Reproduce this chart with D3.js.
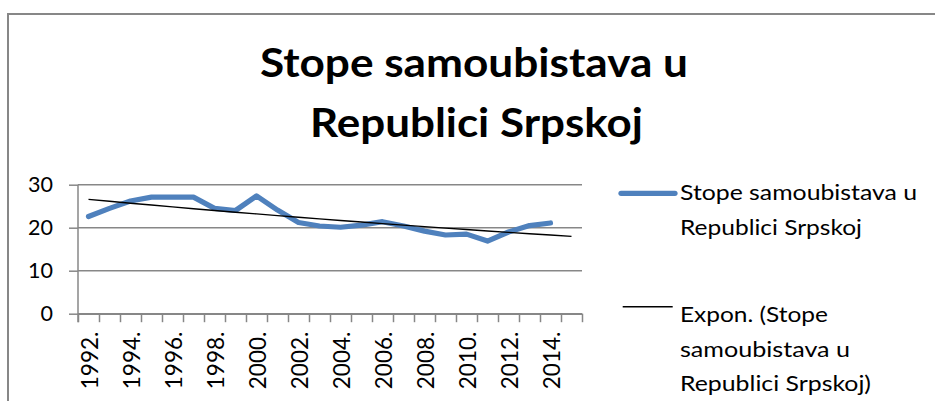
<!DOCTYPE html>
<html><head><meta charset="utf-8">
<script src="https://cdn.jsdelivr.net/npm/d3@7/dist/d3.min.js"></script>
<style>
html,body{margin:0;padding:0;background:#fff;}
svg{display:block;font-family:Lato,"Open Sans",sans-serif;}
</style></head>
<body><svg id="c" width="935" height="401"></svg>
<script>
const categories = ["1992.","1993.","1994.","1995.","1996.","1997.","1998.","1999.","2000.","2001.","2002.","2003.","2004.","2005.","2006.","2007.","2008.","2009.","2010.","2011.","2012.","2013.","2014.","2015."];
const rates = [22.6,24.5,26.2,27.1,27.1,27.1,24.5,24.0,27.4,24.1,21.2,20.4,20.1,20.6,21.4,20.4,19.2,18.3,18.5,16.9,19.0,20.5,21.1];
const tickLabels = ["1992.","1994.","1996.","1998.","2000.","2002.","2004.","2006.","2008.","2010.","2012.","2014."];
const yTicks = [0,10,20,30];
const titleLines = ["Stope samoubistava u","Republici Srpskoj"];
const seriesName = "Stope samoubistava u Republici Srpskoj";
const legendLines1 = ["Stope samoubistava u","Republici Srpskoj"];
const legendLines2 = ["Expon. (Stope","samoubistava u","Republici Srpskoj)"];

const svg = d3.select("#c");
const L = 78, R = 582, T = 184.7, B = 313.7;
const x = d3.scaleBand().domain(categories).range([L, R]).padding(0);
const xc = d => x(d) + x.bandwidth()/2;
const y = d3.scaleLinear().domain([0,30]).range([B, T]);
const grey = "#878787";

// chart border
svg.append("rect").attr("x",8).attr("y",14).attr("width",1000).attr("height",500)
  .attr("fill","none").attr("stroke",grey).attr("stroke-width",2);

// title
const tW = [428, 333], tX = [474, 476.5], tY = [76.7, 136.7];
titleLines.forEach((t,i)=>{
  svg.append("text").attr("x",tX[i]).attr("y",tY[i]).attr("text-anchor","middle")
    .attr("font-size",41).attr("font-weight","bold").attr("fill","#000")
    .attr("textLength",tW[i]).attr("lengthAdjust","spacingAndGlyphs").text(t);
});

// gridlines
svg.append("g").selectAll("line").data(yTicks).join("line")
  .attr("x1",L).attr("x2",R).attr("y1",d=>y(d)).attr("y2",d=>y(d))
  .attr("stroke",grey).attr("stroke-width",1.5);

// y axis
const yAxis = svg.append("g").attr("transform",`translate(${L},0)`)
  .call(d3.axisLeft(y).tickValues(yTicks).tickSize(9).tickSizeOuter(0).tickPadding(16).tickFormat(d3.format("d")));
yAxis.select(".domain").remove();
yAxis.selectAll(".tick line").attr("stroke",grey).attr("stroke-width",1.5);
yAxis.selectAll(".tick text").attr("font-size",21.5).attr("fill","#000")
  .attr("font-family","Lato,sans-serif");
svg.append("line").attr("x1",L).attr("x2",L).attr("y1",T).attr("y2",B+8.5)
  .attr("stroke",grey).attr("stroke-width",1.5);

// x axis (ticks at category edges)
const edge = d3.scaleLinear().domain([0,categories.length]).range([L,R]);
const xAxis = svg.append("g").attr("transform",`translate(0,${B})`)
  .call(d3.axisBottom(edge).tickValues(d3.range(categories.length+1)).tickSize(8.5).tickSizeOuter(0).tickFormat(""));
xAxis.select(".domain").attr("stroke",grey).attr("stroke-width",1.5);
xAxis.selectAll(".tick line").attr("stroke",grey).attr("stroke-width",1.5);

// x labels
svg.append("g").selectAll("text").data(tickLabels).join("text")
  .attr("transform",d=>`translate(${xc(d)+1.5},${B+18}) rotate(-90)`)
  .attr("text-anchor","end").attr("dy","0.36em")
  .attr("font-size",22.5).attr("fill","#000").text(d=>d);

// series line
const pts = rates.map((v,i)=>({c:categories[i], v}));
svg.append("path").datum(pts)
  .attr("d", d3.line().x(d=>xc(d.c)).y(d=>y(d.v)))
  .attr("fill","none").attr("stroke","#4F81BD").attr("stroke-width",5.2)
  .attr("stroke-linejoin","round").attr("stroke-linecap","round");

// exponential trendline (least squares on ln y)
const n = rates.length;
const xs = d3.range(1,n+1), ls = rates.map(Math.log);
const mx = d3.mean(xs), ml = d3.mean(ls);
const b = d3.sum(xs.map((xi,i)=>(xi-mx)*(ls[i]-ml))) / d3.sum(xs.map(xi=>(xi-mx)*(xi-mx)));
const a = ml - b*mx;
const trend = categories.map((c,i)=>({c, v: Math.exp(a + b*(i+1))}));
svg.append("path").datum(trend)
  .attr("d", d3.line().x(d=>xc(d.c)).y(d=>y(d.v)))
  .attr("fill","none").attr("stroke","#000").attr("stroke-width",1.4);

// legend
const lg = svg.append("g");
lg.append("line").attr("x1",621).attr("x2",675).attr("y1",193.3).attr("y2",193.3)
  .attr("stroke","#4F81BD").attr("stroke-width",5.2).attr("stroke-linecap","round");
lg.append("line").attr("x1",622.7).attr("x2",672.7).attr("y1",306.7).attr("y2",306.7)
  .attr("stroke","#000").attr("stroke-width",1.4);
const l1Y = [200, 235], l1W = [237, 182];
legendLines1.forEach((t,i)=>{
  lg.append("text").attr("x",680).attr("y",l1Y[i]).attr("font-size",21)
    .attr("fill","#000").attr("textLength",l1W[i]).attr("lengthAdjust","spacingAndGlyphs").text(t);
});
const l2Y = [321.7, 356.7, 390.5], l2W = [148, 170, 191];
legendLines2.forEach((t,i)=>{
  lg.append("text").attr("x",680).attr("y",l2Y[i]).attr("font-size",21)
    .attr("fill","#000").attr("textLength",l2W[i]).attr("lengthAdjust","spacingAndGlyphs").text(t);
});
</script></body></html>
